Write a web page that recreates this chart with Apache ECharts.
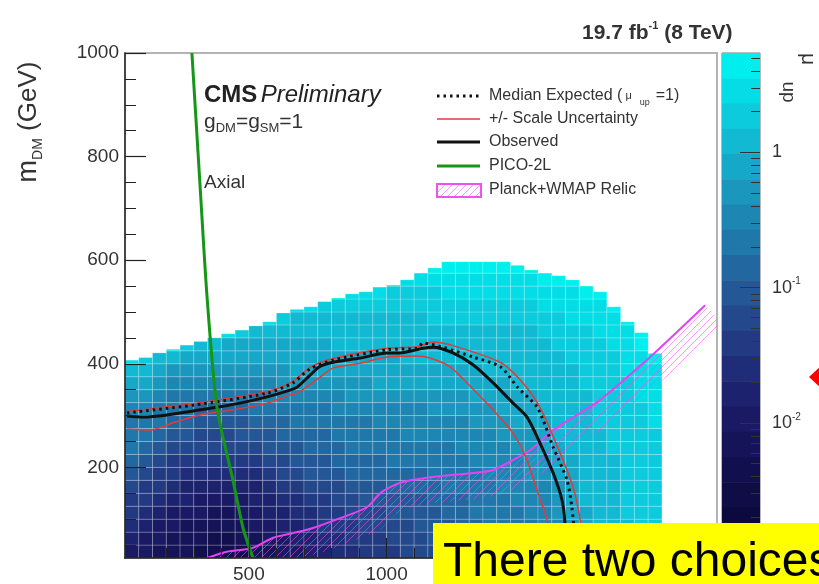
<!DOCTYPE html>
<html>
<head>
<meta charset="utf-8">
<script src="https://cdn.jsdelivr.net/npm/echarts@6/dist/echarts.min.js"></script>
<style>html,body{margin:0;padding:0;background:#fff}#main{width:819px;height:584px}</style>
</head>
<body>
<div id="main"></div>
<script>
var chart = echarts.init(document.getElementById('main'));
var FONT = 'Liberation Sans, Arial, Helvetica, sans-serif';

// lower edges of the mediator-mass columns (GeV), 50 GeV wide
var medBins = [50,100,150,200,250,300,350,400,450,500,550,600,650,700,750,800,850,900,950,1000,
  1050,1100,1150,1200,1250,1300,1350,1400,1450,1500,1550,1600,1650,1700,1750,1800,1850,1900,1950];
// lower edges of the DM-mass rows (GeV), 25 GeV tall
var dmBins = [25,50,75,100,125,150,175,200,225,250,275,300,325,350,375,400,425,450,475,500,525,550,575];
var binW = 50, binH = 25;
// upper edge of the filled region in each column
var topEdge = [407,412,421,428,436,443,450,458,465,473,481,498,505,510,520,527,535,539,548,552,
  562,575,585,597,597,597,597,597,590,581,575,570,562,550,539,510,481,460,420];
// colour band of every cell (0 = top of the scale), row 0 = lowest row
var levelRows = [
  'eefffggggf' + 'feeddccbbb' + 'aaa9998887' + '765433322',
  'deefffggff' + 'eeddccbbba' + 'aa99988877' + '765433322',
  'cdeefffffe' + 'eddcbbbaaa' + 'a999887777' + '665433322',
  'bcdeeeffee' + 'ddccbbaaa9' + '9998877776' + '654433222',
  'bbcddeeeed' + 'dccbbaa999' + '9988877766' + '654333222',
  'abbcdddddd' + 'cbbaaa9998' + '8887777666' + '654333222',
  '9abbcccccc' + 'baa9998888' + '8877776665' + '544333222',
  '89abbbbbbb' + 'aa99988887' + '7777766665' + '544333222',
  '789aaaaaaa' + '9998887777' + '7777666655' + '443332222',
  '77899aaa99' + '9888877777' + '6666666555' + '433332222',
  '7778899998' + '8877777766' + '6666655544' + '433322221',
  '6677788887' + '7777766666' + '6655555444' + '333322221',
  '5567777777' + '6666665555' + '5555544444' + '333322211',
  '4456666666' + '6555555544' + '4444444433' + '333222211',
  '3345555555' + '5544444444' + '4444443333' + '333222111',
  '1233444444' + '4444444444' + '3333333333' + '332222110',
  '...1233444' + '4444433333' + '3333333333' + '32222110.',
  '.......123' + '3333333333' + '3333333333' + '22221110.',
  '..........' + '1233333333' + '3322222222' + '2211110..',
  '..........' + '..11222222' + '2222222222' + '111110...',
  '..........' + '.....01112' + '2221111111' + '11100....',
  '..........' + '.........0' + '1111111111' + '000......',
  '..........' + '..........' + '..00000000' + '.........'
];
var palette = ['#00eeee','#05dde6','#0bcbdc','#11b9d2','#16a8c8','#1b96bd','#1d86b3','#2077a9','#22679f','#245796',
  '#24488c','#223a82','#1f2d78','#1c226d','#191a63','#151459','#120f4f','#0f0c46','#0b093d','#080734'];
var zMin = 0.001, zMax = 5.43;

var observed = [[57,299],[115,297],[203,301],[297,309],[384,316],[468,324],[566,336],[649,349],[675,355],[722,378],
  [758,395],[806,403],[904,411],[1002,421],[1049,421],[1132,430],[1169,432],[1241,421],[1314,398],[1387,363],
  [1459,324],[1510,297],[1557,247],[1605,189],[1637,137],[1648,92],[1652,25]];
var expected = [[57,305],[297,320],[566,343],[660,363],[722,390],[806,407],[1002,427],[1111,430],[1132,440],
  [1205,432],[1314,413],[1414,394],[1475,355],[1548,315],[1605,239],[1655,176],[1673,123],[1690,25]];
var scaleUp = [[57,308],[297,323],[566,346],[660,366],[722,393],[806,410],[1002,430],[1111,433],[1169,442],
  [1241,435],[1412,403],[1485,369],[1557,316],[1630,228],[1677,162],[1703,98],[1717,25]];
var scaleDown = [[57,274],[141,272],[224,286],[322,301],[442,311],[566,324],[649,340],[675,343],[758,374],
  [806,392],[904,401],[1002,413],[1111,415],[1158,411],[1231,394],[1292,363],[1387,311],[1459,266],[1510,214],
  [1550,150],[1583,98],[1601,25]];
var pico = [[293,1000],[322,749],[348,529],[384,316],[442,175],[457,137],[480,80],[515,25]];
var relic = [[348,25],[420,37],[511,44],[588,64],[660,73],[733,83],[831,102],[929,123],[976,150],[1049,170],
  [1158,181],[1314,189],[1387,195],[1459,214],[1521,233],[1605,272],[1703,305],[1775,330],[1957,413],[2157,513]];

var xMajor = [500,1000,1500,2000];
var xMinor = [100,200,300,400,600,700,800,900,1100,1200,1300,1400,1600,1700,1800,1900,2100];
var yMajor = [200,400,600,800,1000];
var yMinor = [50,100,150,250,300,350,450,500,550,650,700,750,850,900,950];
var zMajor = [0.001,0.01,0.1,1];
var zLabels = [0.01,0.1,1];
var zMinor = [0.002,0.003,0.004,0.005,0.006,0.007,0.008,0.009,0.02,0.03,0.04,0.05,0.06,0.07,0.08,0.09,
  0.2,0.3,0.4,0.5,0.6,0.7,0.8,0.9,2,3,4,5];

// cells of the map
var cells = [];
for (var r = 0; r < dmBins.length; r++) {
  for (var c = 0; c < medBins.length; c++) {
    var ch = levelRows[r].charAt(c);
    if (ch === '.' || dmBins[r] >= topEdge[c]) continue;
    cells.push([medBins[c], medBins[c] + binW, dmBins[r], Math.min(dmBins[r] + binH, topEdge[c]), parseInt(ch, 36)]);
  }
}
// colour bar bands, equal steps in log
var bands = [];
var lmin = Math.log10(zMin), lmax = Math.log10(zMax);
for (var i = 0; i < palette.length; i++) {
  var hi = Math.pow(10, lmax - i * (lmax - lmin) / palette.length);
  var lo = Math.pow(10, lmax - (i + 1) * (lmax - lmin) / palette.length);
  bands.push([0, 1, lo, hi, i]);
}

// hatch pattern for the relic band
var hc = document.createElement('canvas');
hc.width = 7; hc.height = 7;
var hx = hc.getContext('2d');
hx.strokeStyle = 'rgba(236,80,245,0.55)';
hx.lineWidth = 1;
hx.beginPath();
hx.moveTo(0, 7); hx.lineTo(7, 0);
hx.moveTo(-1, 1); hx.lineTo(1, -1);
hx.moveTo(6, 8); hx.lineTo(8, 6);
hx.stroke();
var hatch = {image: hc, repeat: 'repeat'};

function lineSeries(name, data, color, width, type, z) {
  return {
    name: name, type: 'line', data: data, xAxisIndex: 0, yAxisIndex: 0,
    symbol: 'none', smooth: 0.25, z: z, silent: true,
    lineStyle: {color: color, width: width, type: type, cap: 'butt'}
  };
}
function plain(v) { return String(v); }

var tickText = {fontFamily: FONT, fontSize: 19, color: '#333', formatter: plain};

var option = {
  animation: false,
  grid: [
    {left: 125, top: 53, width: 592, height: 505, show: true, borderColor: '#b4b4b4', borderWidth: 2},
    {left: 722, top: 53, width: 38, height: 505, show: true, borderColor: '#777', borderWidth: 1}
  ],
  xAxis: [
    {gridIndex: 0, type: 'value', min: 50, max: 2200, position: 'bottom', z: 10,
      axisLine: {lineStyle: {color: '#222', width: 1.5}},
      axisTick: {inside: true, length: 20, customValues: xMajor, lineStyle: {color: '#222', width: 1.2}},
      axisLabel: Object.assign({customValues: xMajor, margin: 7}, tickText),
      splitLine: {show: false}},
    {gridIndex: 0, type: 'value', min: 50, max: 2200, position: 'bottom', z: 10,
      axisLine: {show: false},
      axisTick: {inside: true, length: 10, customValues: xMinor, lineStyle: {color: '#222', width: 1}},
      axisLabel: {show: false}, splitLine: {show: false}},
    {gridIndex: 1, type: 'value', min: 0, max: 1, show: false}
  ],
  yAxis: [
    {gridIndex: 0, type: 'value', min: 25, max: 1000, position: 'left', z: 10,
      axisLine: {lineStyle: {color: '#222', width: 1.5}},
      axisTick: {inside: true, length: 21, customValues: yMajor, lineStyle: {color: '#222', width: 1.2}},
      axisLabel: Object.assign({customValues: yMajor, margin: 6}, tickText),
      splitLine: {show: false}},
    {gridIndex: 0, type: 'value', min: 25, max: 1000, position: 'left', z: 10,
      axisLine: {show: false},
      axisTick: {inside: true, length: 11, customValues: yMinor, lineStyle: {color: '#222', width: 1}},
      axisLabel: {show: false}, splitLine: {show: false}},
    {gridIndex: 1, type: 'log', logBase: 10, min: zMin, max: zMax, position: 'right', z: 10,
      axisLine: {show: false}, splitLine: {show: false}, axisTick: {show: false},
      axisLabel: {customValues: zLabels, margin: 12, fontFamily: FONT, color: '#333',
        formatter: function (v) {
          var e = Math.round(Math.log10(v));
          return e === 0 ? '{n|1}' : '{n|10}{e|' + e + '}';
        },
        rich: {n: {fontSize: 18, fontFamily: FONT, color: '#333', lineHeight: 22},
               e: {fontSize: 10, fontFamily: FONT, color: '#333', verticalAlign: 'top', lineHeight: 10}}}},
    {gridIndex: 1, type: 'log', logBase: 10, min: zMin, max: zMax, position: 'right', z: 10,
      axisLine: {show: false}, splitLine: {show: false},
      axisTick: {inside: true, length: 9, customValues: zMinor, lineStyle: {color: '#333', width: 1}},
      axisLabel: {show: false}},
    {gridIndex: 1, type: 'log', logBase: 10, min: zMin, max: zMax, position: 'right', z: 10,
      axisLine: {show: false}, splitLine: {show: false},
      axisTick: {inside: true, length: 20, customValues: zMajor, lineStyle: {color: '#333', width: 1}},
      axisLabel: {show: false}}
  ],
  series: [
    {
      type: 'custom', xAxisIndex: 0, yAxisIndex: 0, data: cells, silent: true, z: 1,
      encode: {x: [0, 1], y: [2, 3]},
      renderItem: function (params, api) {
        var p0 = api.coord([api.value(0), api.value(3)]);
        var p1 = api.coord([api.value(1), api.value(2)]);
        return {type: 'rect', shape: {x: p0[0], y: p0[1], width: p1[0] - p0[0], height: p1[1] - p0[1]},
          style: {fill: palette[api.value(4)], stroke: 'rgba(255,255,255,0.2)', lineWidth: 1}};
      }
    },
    {
      type: 'custom', xAxisIndex: 0, yAxisIndex: 0, data: [[1000, 500]], silent: true, z: 2,
      renderItem: function (params, api) {
        var pts = relic.map(function (p) { return api.coord(p); });
        var off = [];
        for (var k = 0; k < pts.length; k++) {
          var a = pts[Math.max(k - 1, 0)], b = pts[Math.min(k + 1, pts.length - 1)];
          var tx = b[0] - a[0], ty = b[1] - a[1], len = Math.sqrt(tx * tx + ty * ty);
          off.push([pts[k][0] - ty / len * 26, pts[k][1] + tx / len * 26]);
        }
        var cs = params.coordSys;
        return {type: 'polygon', shape: {points: pts.concat(off.reverse())},
          style: {fill: hatch, stroke: null},
          clipPath: {type: 'rect', shape: {x: cs.x, y: cs.y, width: cs.width, height: cs.height}}};
      }
    },
    {
      type: 'custom', xAxisIndex: 2, yAxisIndex: 2, data: bands, silent: true, z: 1,
      encode: {x: [0, 1], y: [2, 3]},
      renderItem: function (params, api) {
        var p0 = api.coord([api.value(0), api.value(3)]);
        var p1 = api.coord([api.value(1), api.value(2)]);
        return {type: 'rect', shape: {x: p0[0], y: p0[1], width: p1[0] - p0[0], height: p1[1] - p0[1] + 0.5},
          style: {fill: palette[api.value(4)]}};
      }
    },
    lineSeries('Planck+WMAP Relic', relic, '#e442f2', 2, 'solid', 3),
    lineSeries('+/- Scale Uncertainty', scaleUp, '#e33a3a', 1.5, 'solid', 4),
    lineSeries('+/- Scale Uncertainty', scaleDown, '#e33a3a', 1.5, 'solid', 4),
    lineSeries('Observed', observed, '#111', 3, 'solid', 5),
    lineSeries('Median Expected', expected, '#111', 3, [2.5, 4], 6),
    lineSeries('PICO-2L', pico, '#169616', 3, 'solid', 7)
  ],
  graphic: [
    {type: 'text', x: 29, y: 122, rotation: Math.PI / 2, z: 100, silent: true,
      style: {text: '{m|m}{s|DM}{t| (GeV)}', align: 'center', verticalAlign: 'middle',
        rich: {m: {fontSize: 27, fontFamily: FONT, fill: '#333', lineHeight: 32},
               s: {fontSize: 14, fontFamily: FONT, fill: '#333', verticalAlign: 'bottom', lineHeight: 14},
               t: {fontSize: 26, fontFamily: FONT, fill: '#333', lineHeight: 32}}}},
    {type: 'text', x: 582, y: 33, z: 100, silent: true,
      style: {text: '{t|19.7 fb}{e|-1}{t| (8 TeV)}', verticalAlign: 'middle',
        rich: {t: {fontSize: 21, fontWeight: 'bold', fontFamily: FONT, fill: '#333', lineHeight: 25},
               e: {fontSize: 11, fontWeight: 'bold', fontFamily: FONT, fill: '#333', verticalAlign: 'top', lineHeight: 11}}}},
    {type: 'text', x: 808, y: 59, rotation: -Math.PI / 2, z: 100, silent: true,
      style: {text: '\u03bc', align: 'center', verticalAlign: 'middle', fontSize: 21, fontFamily: FONT, fill: '#333'}},
    {type: 'text', x: 788, y: 92, rotation: -Math.PI / 2, z: 100, silent: true,
      style: {text: 'up', align: 'center', verticalAlign: 'middle', fontSize: 19, fontFamily: FONT, fill: '#333'}},
    {type: 'text', x: 204, y: 95, z: 100, silent: true,
      style: {text: '{b|CMS} {i|Preliminary}', verticalAlign: 'middle',
        rich: {b: {fontSize: 24, fontWeight: 'bold', fontFamily: FONT, fill: '#222'},
               i: {fontSize: 24, fontStyle: 'italic', fontFamily: FONT, fill: '#222'}}}},
    {type: 'text', x: 204, y: 122, z: 100, silent: true,
      style: {text: '{t|g}{s|DM}{t|=g}{s|SM}{t|=1}', verticalAlign: 'middle',
        rich: {t: {fontSize: 21, fontFamily: FONT, fill: '#333', lineHeight: 26},
               s: {fontSize: 13, fontFamily: FONT, fill: '#333', verticalAlign: 'bottom', lineHeight: 12}}}},
    {type: 'text', x: 204, y: 183, z: 100, silent: true,
      style: {text: 'Axial', verticalAlign: 'middle', fontSize: 19, fontFamily: FONT, fill: '#333'}},

    // legend
    {type: 'line', z: 100, silent: true, shape: {x1: 437, y1: 96, x2: 480, y2: 96},
      style: {stroke: '#111', lineWidth: 3, lineDash: [2.5, 4]}},
    {type: 'text', x: 489, y: 96, z: 100, silent: true,
      style: {text: '{t|Median Expected (}{m|\u03bc}{s|up}{t|=1)}', verticalAlign: 'middle',
        rich: {t: {fontSize: 16, fontFamily: FONT, fill: '#333', lineHeight: 22},
               m: {fontSize: 11, fontFamily: FONT, fill: '#333', lineHeight: 22, padding: [0, 8, 0, 3]},
               s: {fontSize: 9, fontFamily: FONT, fill: '#333', verticalAlign: 'bottom', lineHeight: 9, padding: [0, 6, 0, 0]}}}},
    {type: 'line', z: 100, silent: true, shape: {x1: 437, y1: 119, x2: 480, y2: 119},
      style: {stroke: '#e33a3a', lineWidth: 1.5}},
    {type: 'text', x: 489, y: 119, z: 100, silent: true,
      style: {text: '+/- Scale Uncertainty', verticalAlign: 'middle', fontSize: 16, fontFamily: FONT, fill: '#333'}},
    {type: 'line', z: 100, silent: true, shape: {x1: 437, y1: 142, x2: 480, y2: 142},
      style: {stroke: '#111', lineWidth: 3}},
    {type: 'text', x: 489, y: 142, z: 100, silent: true,
      style: {text: 'Observed', verticalAlign: 'middle', fontSize: 16, fontFamily: FONT, fill: '#333'}},
    {type: 'line', z: 100, silent: true, shape: {x1: 437, y1: 166, x2: 480, y2: 166},
      style: {stroke: '#169616', lineWidth: 3}},
    {type: 'text', x: 489, y: 166, z: 100, silent: true,
      style: {text: 'PICO-2L', verticalAlign: 'middle', fontSize: 16, fontFamily: FONT, fill: '#333'}},
    {type: 'rect', z: 100, silent: true, shape: {x: 437, y: 184, width: 44, height: 13},
      style: {fill: hatch, stroke: '#f050f0', lineWidth: 2}},
    {type: 'text', x: 489, y: 190, z: 100, silent: true,
      style: {text: 'Planck+WMAP Relic', verticalAlign: 'middle', fontSize: 16, fontFamily: FONT, fill: '#333'}},

    // overlay from the slide
    {type: 'polygon', z: 100, silent: true, shape: {points: [[809, 377], [822, 365], [835, 377], [822, 389]]},
      style: {fill: '#ff0000'}},
    {type: 'rect', z: 100, silent: true, shape: {x: 433, y: 523, width: 386, height: 61},
      style: {fill: '#ffff00'}},
    {type: 'text', x: 443, y: 563, z: 101, silent: true,
      style: {text: 'There two choices', verticalAlign: 'middle', fontSize: 48, fontFamily: FONT, fill: '#000'}}
  ]
};
chart.setOption(option);
</script>
</body>
</html>
